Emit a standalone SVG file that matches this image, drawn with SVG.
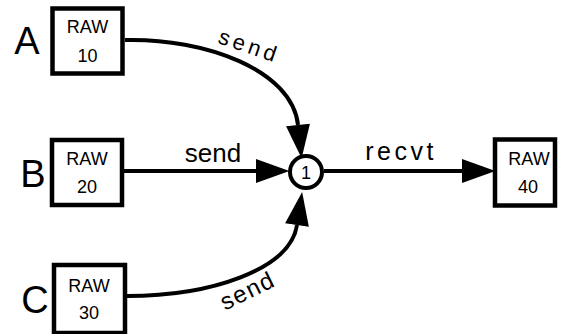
<svg xmlns="http://www.w3.org/2000/svg" width="573" height="334" viewBox="0 0 573 334">
<style>
text{font-family:"Liberation Sans",Arial,sans-serif;fill:#000}
.box{fill:#fff;stroke:#000;stroke-width:4.5}
.raw{font-size:18px;text-anchor:middle}
.big{font-size:38px;text-anchor:middle}
.lbl{text-anchor:middle}
.edge{fill:none;stroke:#000;stroke-width:4}
</style>
<defs>
<marker id="ah" markerUnits="userSpaceOnUse" markerWidth="34" markerHeight="24" viewBox="0 0 32 23" refX="0" refY="11.5" orient="auto">
<path d="M0,0 L32,11.5 L0,23 z" fill="#000"/>
</marker>
</defs>
<g id="connectors">
<path class="edge" d="M125,40 C205,38 292,70 298,125" marker-end="url(#ah)"/>
<path class="edge" d="M124,171 L256,171" marker-end="url(#ah)"/>
<path class="edge" d="M127,296 C210,296 290,270 297,225" marker-end="url(#ah)"/>
<path class="edge" d="M324,171 L462,171" marker-end="url(#ah)"/>
<text class="lbl" x="247" y="53" style="font-size:22px;letter-spacing:4px" transform="rotate(19 247 53)">send</text>
<text class="lbl" x="213" y="162" style="font-size:26px">send</text>
<text class="lbl" x="401" y="160" style="font-size:25px;letter-spacing:3.5px">recvt</text>
<text class="lbl" x="251" y="298" style="font-size:24px;letter-spacing:1.5px" transform="rotate(-26 251 298)">send</text>
</g>
<g id="A">
<text class="big" x="27" y="54">A</text>
<rect class="box" x="52.5" y="8.5" width="70" height="65"/>
<text class="raw" x="87.5" y="33">RAW</text>
<text class="raw" x="87.5" y="62">10</text>
</g>
<g id="B">
<text class="big" x="33" y="187">B</text>
<rect class="box" x="52" y="140" width="70" height="65"/>
<text class="raw" x="87" y="165">RAW</text>
<text class="raw" x="87" y="193">20</text>
</g>
<g id="C">
<text class="big" x="35" y="313">C</text>
<rect class="box" x="54" y="265" width="71" height="68"/>
<text class="raw" x="89" y="292">RAW</text>
<text class="raw" x="89" y="319">30</text>
</g>
<g id="node1">
<circle cx="306" cy="172" r="16" fill="#fff" stroke="#000" stroke-width="4"/>
<text x="306" y="178.5" style="font-size:18px" text-anchor="middle">1</text>
</g>
<g id="D">
<rect class="box" x="495" y="139.5" width="60" height="66"/>
<text class="raw" x="529" y="165">RAW</text>
<text class="raw" x="528" y="193">40</text>
</g>
</svg>
